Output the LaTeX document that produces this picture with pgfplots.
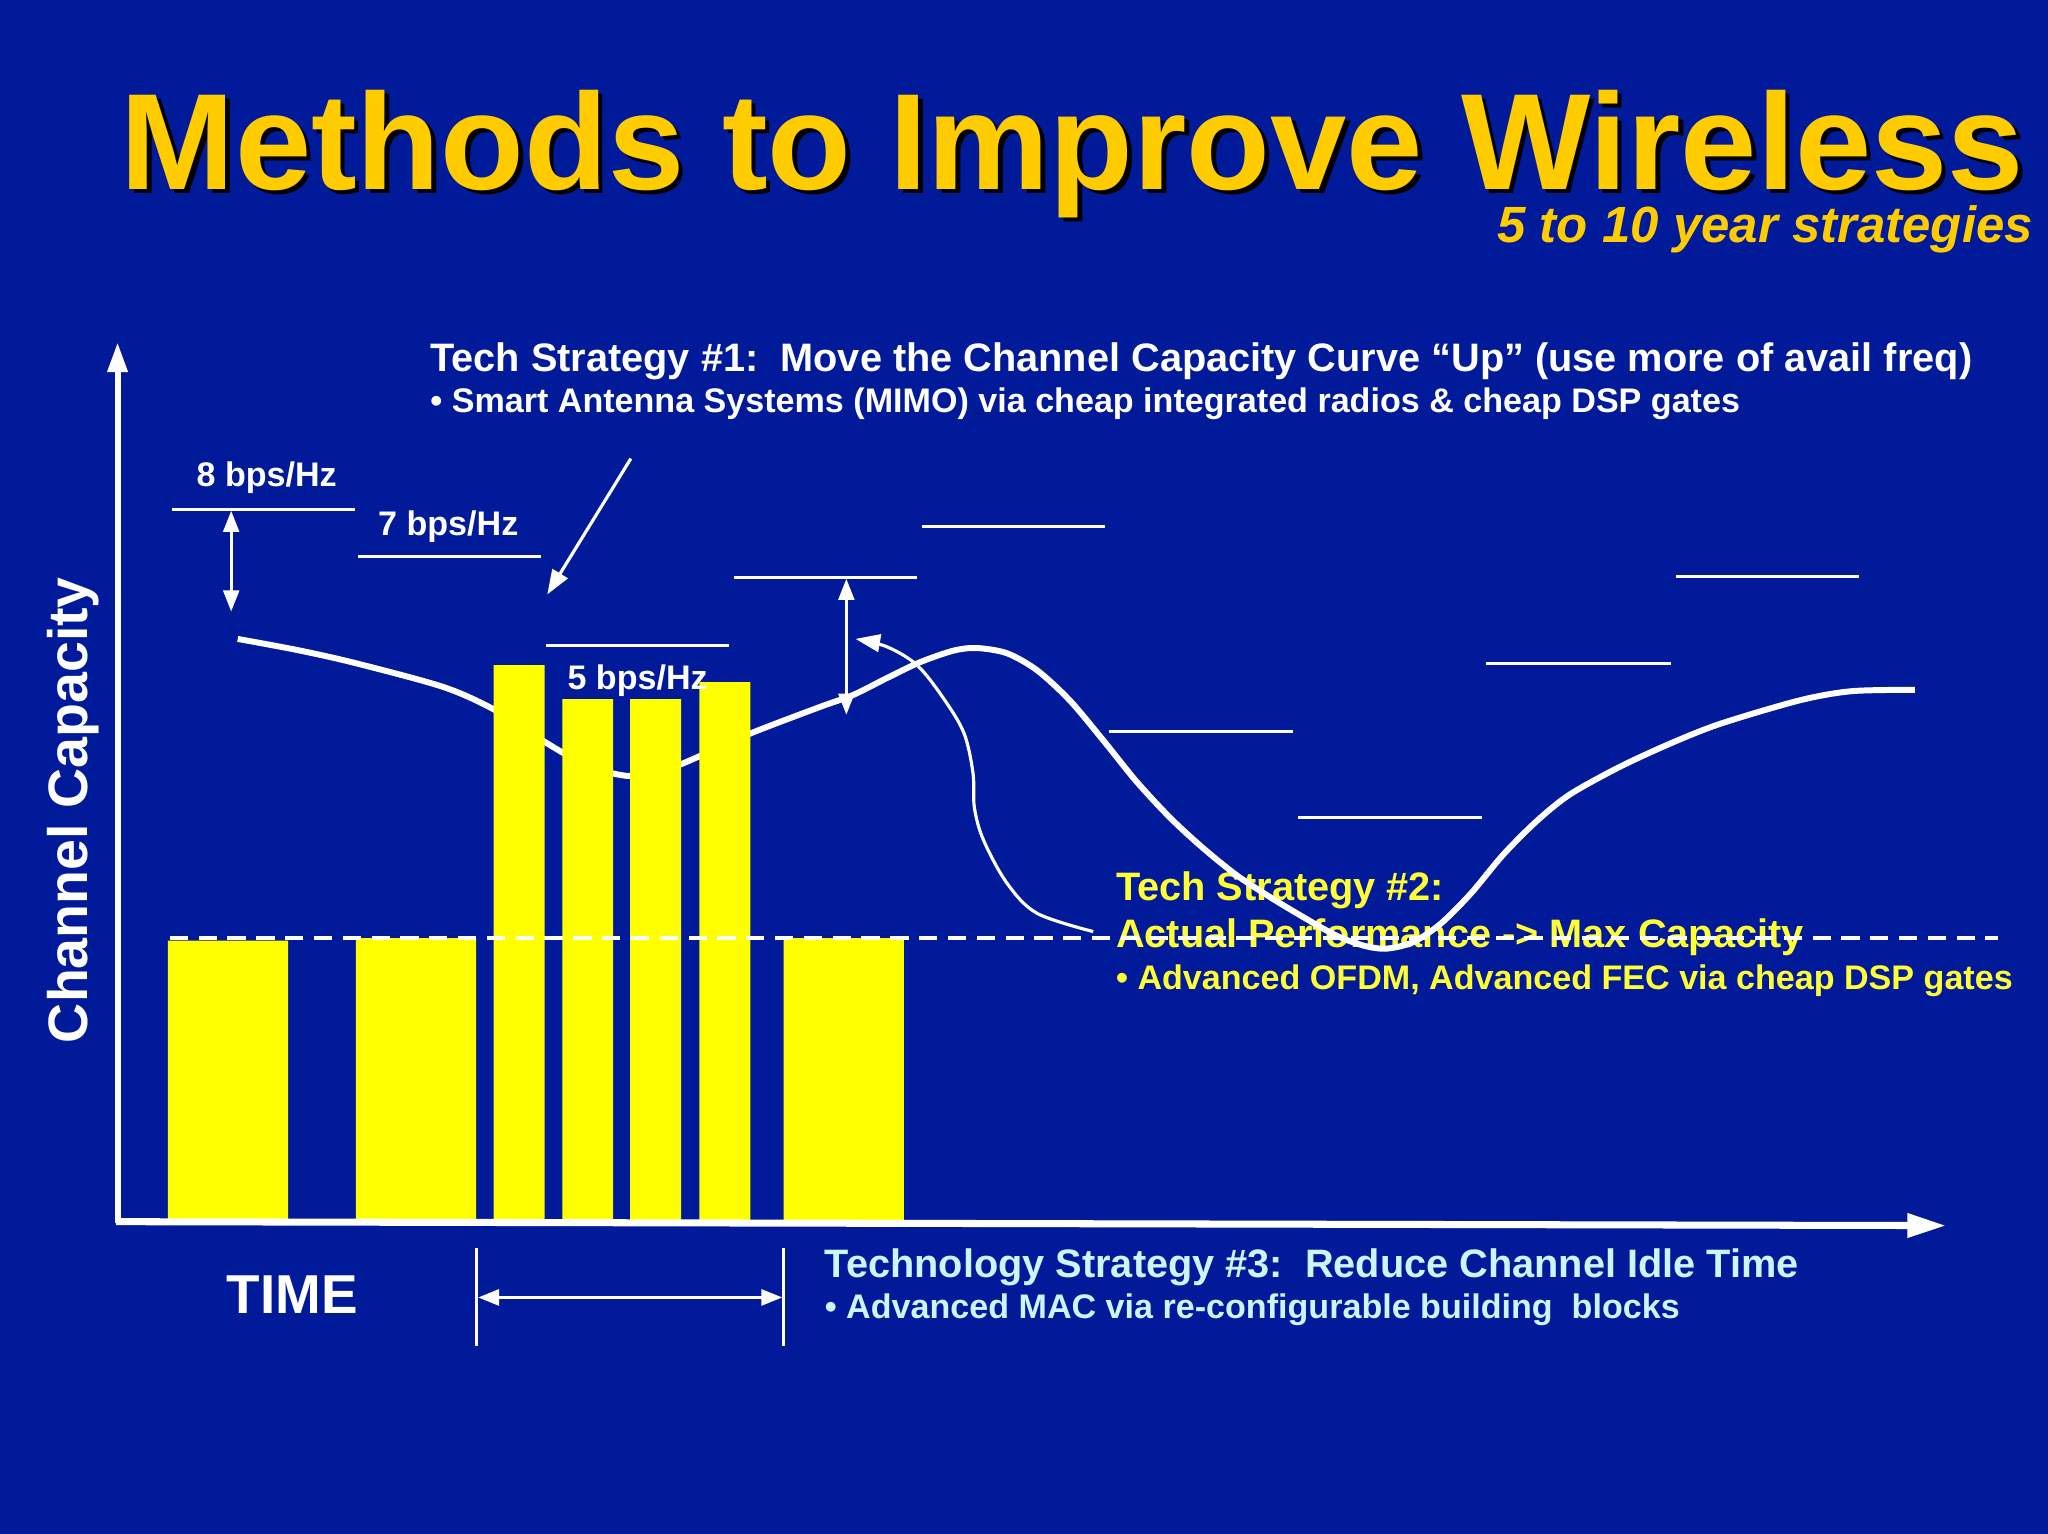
\documentclass[border=0pt]{standalone}
\usepackage{fontspec}
\setmainfont{Liberation Sans}
\usepackage{pgfplots}
\pgfplotsset{compat=1.18}
\usetikzlibrary{arrows.meta}
\definecolor{slide}{HTML}{001A99}
\definecolor{titlegold}{HTML}{FFCC00}
\definecolor{baryellow}{HTML}{FFFF00}
\definecolor{textyellow}{HTML}{FFFF33}
\definecolor{paleblue}{HTML}{CCF5FF}
\newcommand\fs[1]{\fontsize{#1pt}{#1pt}\selectfont}
\begin{document}
\begin{tikzpicture}
\fill[slide] (0,0) rectangle (20.48cm,15.34cm);
\useasboundingbox (0,0) rectangle (20.48cm,15.34cm);
\begin{axis}[
    at={(0,0)}, anchor=south west,
    width=20.48cm, height=15.34cm, scale only axis,
    xmin=0, xmax=1568, ymin=-239, ymax=935,
    hide axis, clip=false,
  ]
  % titles
  \node[anchor=base west, text=black, font=\bfseries\fs{39}, inner sep=0pt,
        xshift=0.045cm, yshift=-0.045cm]
    at (axis cs:92,790) {Methods to Improve Wireless};
  \node[anchor=base west, text=titlegold, font=\bfseries\fs{39}, inner sep=0pt]
    at (axis cs:92,790) {Methods to Improve Wireless};
  \node[anchor=base east, text=titlegold, font=\bfseries\itshape\fs{14.5}, inner sep=0pt]
    at (axis cs:1557,749) {5 to 10 year strategies};

  % strategy texts
  \node[anchor=base west, text=white, font=\bfseries\fs{11.3}, inner sep=0pt]
    at (axis cs:329,651) {Tech Strategy \#1:\ \ Move the Channel Capacity Curve “Up” (use more of avail freq)};
  \node[anchor=base west, text=white, font=\bfseries\fs{9.7}, inner sep=0pt]
    at (axis cs:329,619) {• Smart Antenna Systems (MIMO) via cheap integrated radios \& cheap DSP gates};
  \node[anchor=base west, text=textyellow, font=\bfseries\fs{11.3}, inner sep=0pt]
    at (axis cs:854,246) {Tech Strategy \#2:};
  \node[anchor=base west, text=textyellow, font=\bfseries\fs{11.3}, inner sep=0pt]
    at (axis cs:854,210) {Actual Performance -> Max Capacity};
  \node[anchor=base west, text=textyellow, font=\bfseries\fs{9.7}, inner sep=0pt]
    at (axis cs:854,178) {• Advanced OFDM, Advanced FEC via cheap DSP gates};
  \node[anchor=base west, text=paleblue, font=\bfseries\fs{11.3}, inner sep=0pt]
    at (axis cs:631,-43) {Technology Strategy \#3:\ \ Reduce Channel Idle Time};
  \node[anchor=base west, text=paleblue, font=\bfseries\fs{9.7}, inner sep=0pt]
    at (axis cs:631,-74) {• Advanced MAC via re-configurable building\ \ blocks};

  % channel capacity curve
  \addplot[white, line width=1.7pt, smooth, tension=0.5] coordinates {
    (182,446) (230,437) (274,427) (340,409) (380,391) (419,366)
    (450,349) (483,341) (516,348) (573,373) (628,394) (653,403)
    (679,416) (704,428) (730,437) (748,439) (771,435) (794,422)
    (819,399) (845,368) (870,337) (896,309) (921,286) (947,265)
    (973,248) (998,233) (1023,219) (1045,211) (1062,209) (1082,214)
    (1103,228) (1126,251) (1151,281) (1177,307) (1202,327) (1240,348)
    (1279,366) (1317,381) (1378,399) (1418,406) (1466,407)
  };

  % transmissions
  \addplot[ybar, bar shift=0pt, bar width=92, fill=baryellow, draw=none]
    coordinates {(174.5,215) (318.5,217) (646,217)};
  \addplot[ybar, bar shift=0pt, bar width=39, fill=baryellow, draw=none]
    coordinates {(397.5,426) (450,400) (502,400) (555,413)};

  % max capacity levels
  \addplot[white, line width=0.9pt, unbounded coords=jump] coordinates {
    (132,545) (272,545) (nan,nan)
    (274,509) (414,509) (nan,nan)
    (418,441) (558,441) (nan,nan)
    (562,493) (702,493) (nan,nan)
    (706,532) (846,532) (nan,nan)
    (849,375) (990,375) (nan,nan)
    (994,309) (1135,309) (nan,nan)
    (1138,427) (1279,427) (nan,nan)
    (1283,494) (1423,494)
  };

  % actual performance level
  \addplot[white, line width=1pt, dash pattern=on 5.2pt off 3pt]
    coordinates {(130,217) (1530,217)};

  \node[anchor=base west, text=white, font=\bfseries\fs{9.7}, inner sep=0pt]
    at (axis cs:150,563) {8 bps/Hz};
  \node[anchor=base west, text=white, font=\bfseries\fs{9.7}, inner sep=0pt]
    at (axis cs:289,525) {7 bps/Hz};
  \node[anchor=base west, text=white, font=\bfseries\fs{9.7}, inner sep=0pt]
    at (axis cs:434,407) {5 bps/Hz};

  % arrows
  \draw[white, line width=0.8pt, {Triangle[length=6pt,width=4.5pt]}-{Triangle[length=6pt,width=4.5pt]}]
    (axis cs:177,544) -- (axis cs:177,467);
  \draw[white, line width=0.8pt, {Triangle[length=6pt,width=4.5pt]}-{Triangle[length=6pt,width=4.5pt]}]
    (axis cs:648,492) -- (axis cs:648,388);
  \draw[white, line width=0.9pt, -{Triangle[length=7pt,width=5pt]}]
    (axis cs:483,584) -- (axis cs:419,480);
  \addplot[white, line width=0.9pt, smooth, tension=0.55, -{Triangle[length=7pt,width=5pt]}]
    coordinates {(837,222) (794,236) (771,259) (753,292) (746,317)
      (745,343) (738,374) (722,401) (702,426) (679,440) (655,446)};

  % axes
  \draw[white, line width=1.7pt, -{Triangle[length=8.5pt,width=5.5pt]}]
    (axis cs:90,-1) -- (axis cs:90,673);
  \draw[white, line width=2pt, -{Triangle[length=11pt,width=6.5pt]}]
    (axis cs:89,0) -- (axis cs:1490,-3);
  \node[rotate=90, text=white, font=\bfseries\fs{15.8}, inner sep=0pt]
    at (axis cs:56,315) {Channel Capacity};
  \node[anchor=base west, text=white, font=\bfseries\fs{15.6}, inner sep=0pt]
    at (axis cs:173,-70) {TIME};

  % idle time
  \draw[white, line width=0.8pt] (axis cs:365,-20) -- (axis cs:365,-95);
  \draw[white, line width=0.8pt] (axis cs:600,-20) -- (axis cs:600,-95);
  \draw[white, line width=1pt, {Triangle[length=6pt,width=4.5pt]}-{Triangle[length=6pt,width=4.5pt]}]
    (axis cs:366,-58) -- (axis cs:599,-58);
\end{axis}
\end{tikzpicture}
\end{document}
